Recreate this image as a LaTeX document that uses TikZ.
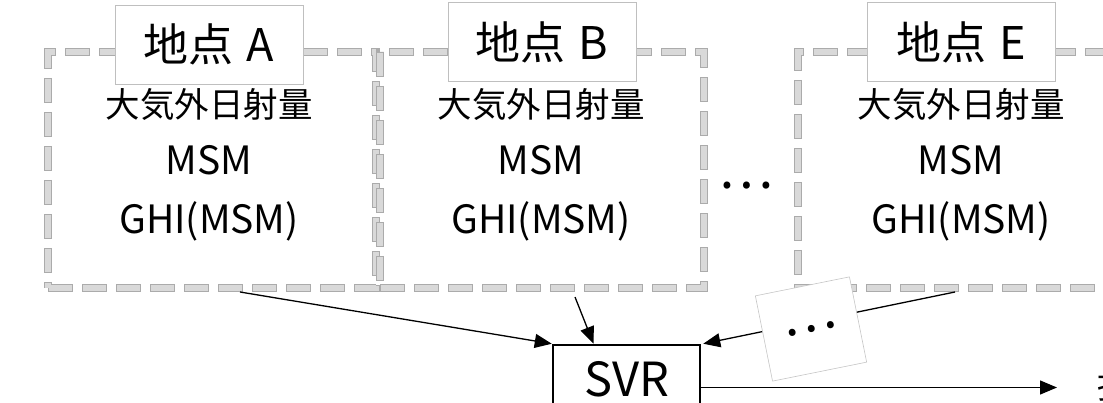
\documentclass[tikz,border=0pt]{standalone}
\usepackage{fontspec}
\setmainfont{Noto Sans CJK JP}
\usetikzlibrary{arrows.meta}
\definecolor{dashfill}{HTML}{D9D9D9}
\definecolor{dashedge}{HTML}{ABABAB}
\definecolor{lbledge}{HTML}{BFBFBF}
\begin{document}
\begin{tikzpicture}[x=1pt,y=-1pt,
  region/.style={draw=dashedge, line width=8pt, dash pattern=on 25pt off 9pt,
    inner sep=0pt, minimum height=236pt,
    postaction={draw=dashfill, line width=6.4pt, dash pattern=on 23.4pt off 10.6pt, dash phase=33.2pt}},
  lbl/.style={draw=lbledge, line width=0.9pt, fill=white, inner sep=0pt,
    minimum width=188pt, minimum height=79pt, font=\fontsize{45}{50}\selectfont},
  jp/.style={font=\fontsize{34.5}{40}\selectfont, inner sep=0pt},
  lat/.style={font=\fontsize{39}{44}\selectfont, inner sep=0pt, anchor=base},
  ell/.style={font=\fontsize{52}{56}\selectfont, inner sep=0pt},
  dotbox/.style={ell, draw=gray!45, line width=0.6pt, fill=white, rotate=11.4,
    minimum width=96pt, minimum height=87pt},
  svrbox/.style={draw, line width=2.5pt, minimum width=147pt, inner sep=0pt,
    text height=51pt, text depth=34pt, font=\fontsize{47}{50}\selectfont},
  conn/.style={line width=1.3pt, -{Triangle[length=17pt,width=14pt]}}]
\useasboundingbox (0,0) rectangle (1103,403);
\clip (0,0) rectangle (1103,403);
% regions
\node[region, minimum width=328pt] (boxA) at (212,170) {};
\node[region, minimum width=324pt] (boxB) at (542,170) {};
\node[region, minimum width=344pt] (boxE) at (970,170) {};
% labels
\node[lbl] (labA) at (209,44.5) {地点\hspace{3pt} A};
\node[lbl] (labB) at (542,42) {地点\hspace{3pt} B};
\node[lbl] (labE) at (961.5,42) {地点\hspace{3pt} E};
% contents
\node[jp] (sA) at (209,104.5) {大気外日射量};
\node[lat] (mA) at (209,175) {MSM};
\node[lat] (gA) at (209,234) {GHI(MSM)};
\node[jp] (sB) at (541,104.5) {大気外日射量};
\node[lat] (mB) at (541,175) {MSM};
\node[lat] (gB) at (541,234) {GHI(MSM)};
\node[jp] (sE) at (961,104.5) {大気外日射量};
\node[lat] (mE) at (961,175) {MSM};
\node[lat] (gE) at (961,234) {GHI(MSM)};
\node[ell] (gap) at (746,186) {…};
% SVR
\node[svrbox] (svr) at (626.5,387.5) {SVR};
\draw[conn] ([xshift=28pt]boxA.south) -- (svr.north west);
\draw[conn] ([xshift=33pt,yshift=-5pt]boxB.south) -- ([xshift=-33pt]svr.north);
\draw[conn] ([xshift=-15pt]boxE.south) -- ([xshift=2pt]svr.north east);
\node[dotbox] (dots) at (811,329) {…};
\coordinate (out) at (1057,387.5);
\draw[conn] (svr.east) -- (out);
\node[font=\fontsize{35}{40}\selectfont, anchor=base west, inner sep=0pt] (res) at (1097,398) {推定GHI};
\end{tikzpicture}
\end{document}
